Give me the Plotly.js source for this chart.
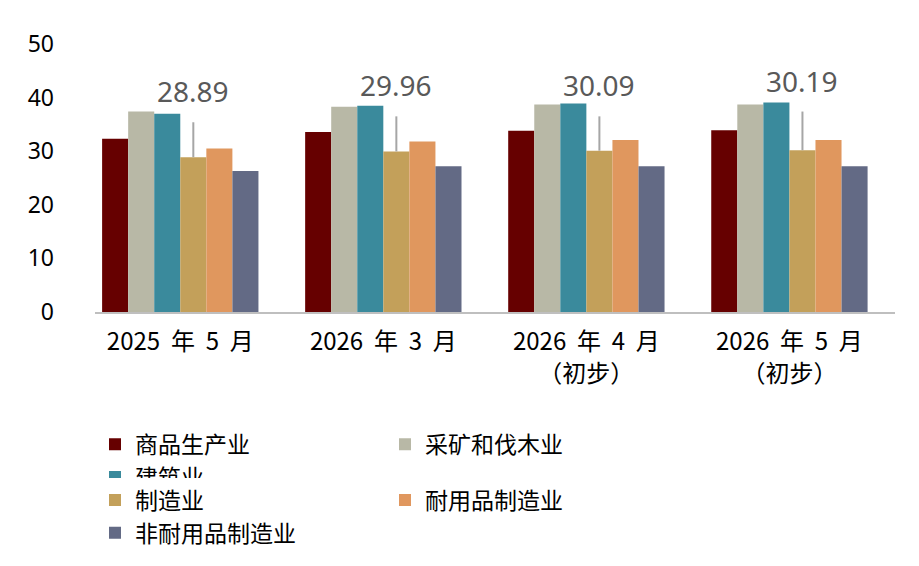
<!DOCTYPE html><html><head><meta charset="utf-8">
<script src="https://cdn.plot.ly/plotly-3.0.1.min.js"></script></head>
<body style="margin:0"><div id="c" style="width:919px;height:566px"></div>
<script>
const categories=["2025  年  5  月","2026  年  3  月","2026  年  4  月<br>（初步）","2026  年  5  月<br>（初步）"];
const seriesNames=["商品生产业","采矿和伐木业","建筑业","制造业","耐用品制造业","非耐用品制造业"];
const colors=["#660000","#B8B8A6","#3A8A9C","#C3A05A","#E0975E","#636A85"];
const goods=[32.3,33.6,33.8,33.9];
const mining=[37.4,38.3,38.7,38.7];
const construction=[37.0,38.5,38.9,39.1];
const manufacturing=[28.89,29.96,30.09,30.19];
const durable=[30.5,31.8,32.1,32.1];
const nondurable=[26.3,27.2,27.2,27.2];
const leaderTop=[35.4,36.5,36.5,37.4];
const labels=["28.89","29.96","30.09","30.19"];
const vals=[goods,mining,construction,manufacturing,durable,nondurable];
const traces=vals.map((v,i)=>{const t={type:'bar',x:categories,y:v,name:seriesNames[i],marker:{color:colors[i]},legend:i<3?'legend':'legend2'};
 if(i===3){t.error_y={type:'data',symmetric:false,array:leaderTop.map((b,j)=>b-v[j]),arrayminus:v.map(()=>0),color:'#A6A6A6',thickness:2,width:0};}
 return t;});
const ann=categories.map((c,j)=>({x:c,y:leaderTop[j],yanchor:'bottom',xshift:13,yshift:10,text:labels[j],showarrow:false,font:{size:28,color:'#595959',family:'Noto Sans'}}));
const leg=(y)=>({orientation:'h',x:0.0,y:y,yanchor:'middle',xanchor:'left',entrywidth:245,font:{size:23},traceorder:'normal',itemwidth:30});
Plotly.newPlot('c',traces,{width:919,height:566,margin:{l:95,r:24,t:44,b:248},
 font:{family:'Noto Sans CJK SC',color:'#000'},
 barmode:'group',bargap:0.23,bargroupgap:0,
 xaxis:{range:[-0.42,3.52],showline:true,linecolor:'#BFBFBF',linewidth:1.5,tickfont:{size:24},ticks:'',ticklabelstandoff:8},
 yaxis:{range:[0,50],dtick:10,showgrid:false,zeroline:false,tickfont:{size:23,family:'Noto Sans'},ticklen:0,ticklabelstandoff:40},
 showlegend:true,legend:leg(-0.555),legend2:leg(-0.763),
 annotations:ann,plot_bgcolor:'#fff',paper_bgcolor:'#fff'},{staticPlot:true});
</script></body></html>
